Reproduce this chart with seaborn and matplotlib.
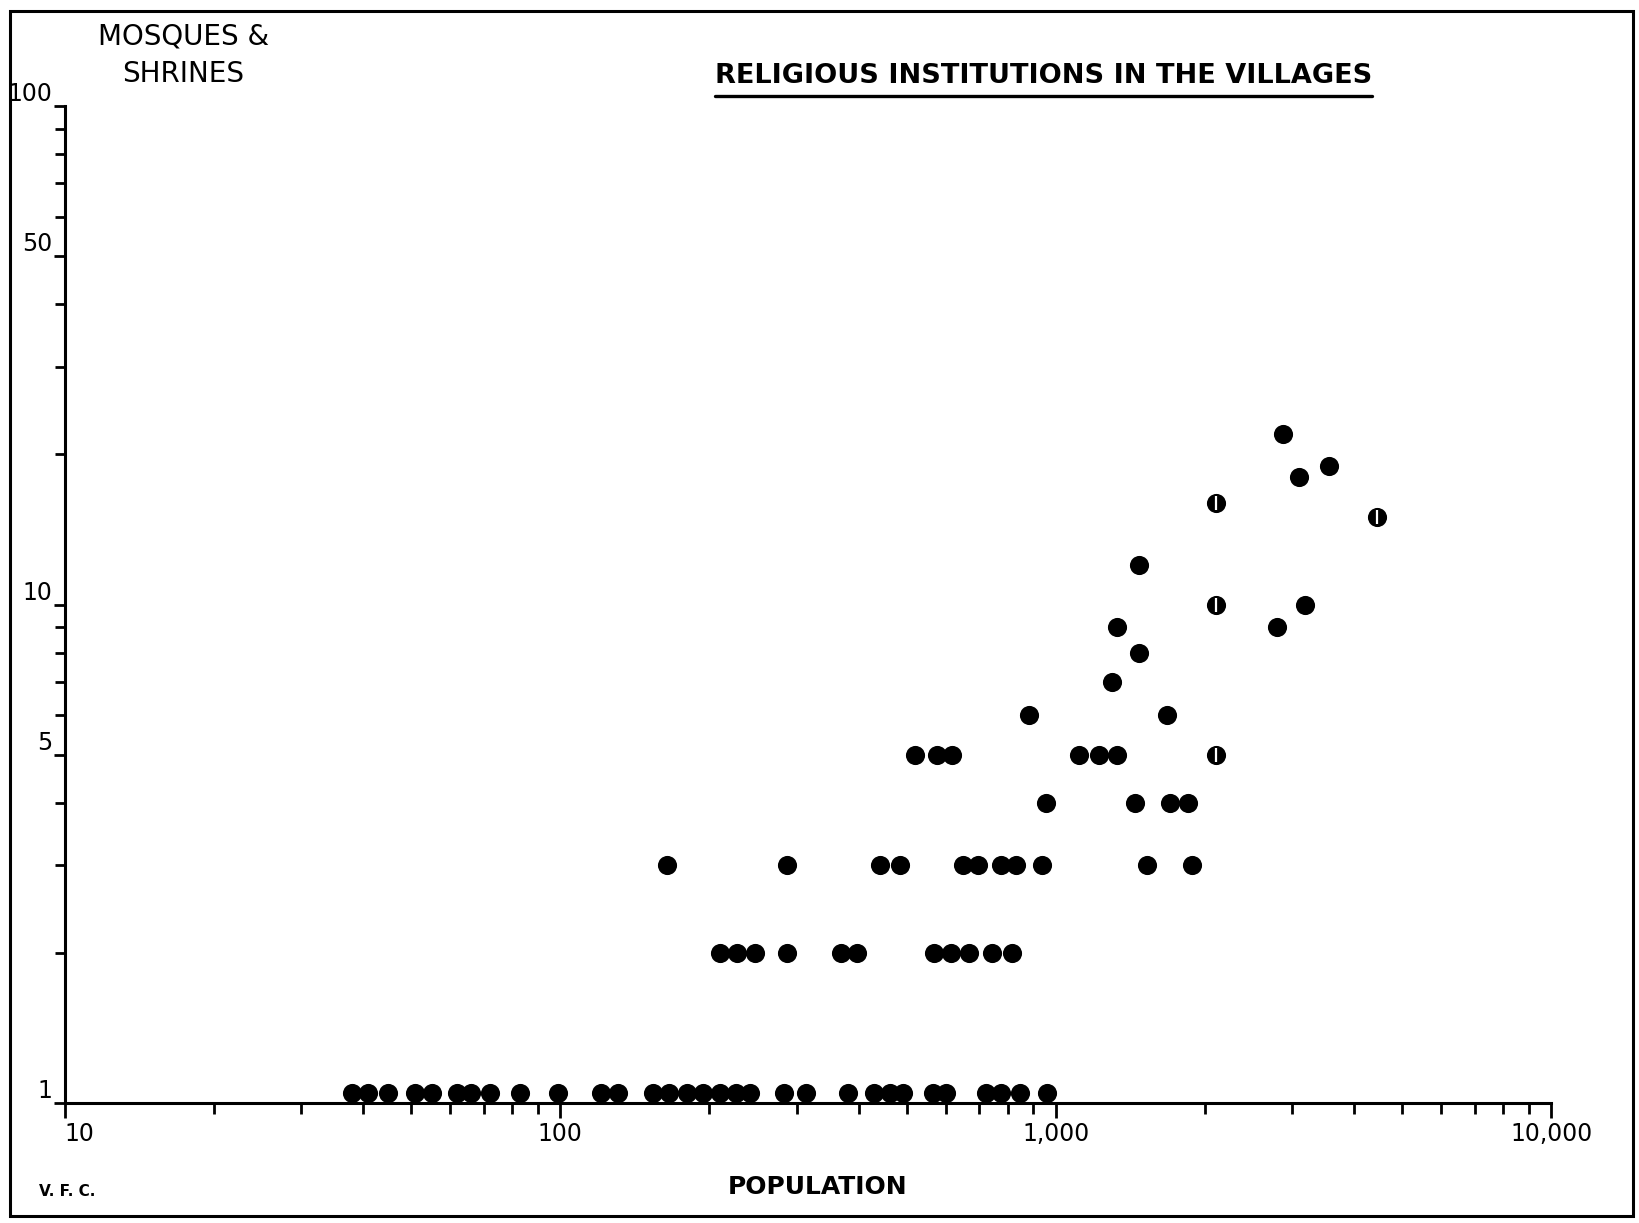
import matplotlib
matplotlib.use("Agg")
import matplotlib.pyplot as plt
import matplotlib.ticker as mticker
import matplotlib.transforms as mtransforms
from matplotlib.lines import Line2D
from matplotlib.patches import Rectangle
import pandas as pd
import seaborn as sns

# Village population and number of mosques & shrines, grouped by count
population = [
    38, 41, 45, 51, 55, 62, 66, 72, 83, 99, 121, 131, 154, 166, 180, 194,
    210, 226, 242, 283, 313, 380, 430, 462, 492, 564, 600, 722, 777, 848, 962,
    210, 227, 247, 287, 368, 397, 569, 615, 668, 743, 815,
    164, 287, 442, 485, 649, 698, 777, 831, 939, 1530, 1879,
    957, 1445, 1703, 1852,
    521, 575, 618, 1114, 1222, 1332, 2110,
    881, 1675,
    1300,
    1470,
    1326, 2800,
    2110, 3180,
    1470,
    4450,
    2110,
    3100,
    3560,
    2870,
]
institutions = (
    [1] * 31
    + [2] * 11
    + [3] * 11
    + [4] * 4
    + [5] * 7
    + [6] * 2
    + [7]
    + [8]
    + [9] * 2
    + [10] * 2
    + [12]
    + [15]
    + [16]
    + [18]
    + [19]
    + [22]
)

# Villages drawn with a split (marked) dot
marked_population = [2110, 2110, 2110, 4450]
marked_institutions = [5, 10, 16, 15]

x_ticks = [10, 100, 1000, 10000]
x_tick_labels = ["10", "100", "1,000", "10,000"]
x_minor = [m * d for d in (10, 100, 1000) for m in range(2, 10)]
y_ticks = [1, 5, 10, 50, 100]
y_tick_labels = ["1", "5", "10", "50", "100"]
y_minor = [2, 3, 4, 6, 7, 8, 9, 20, 30, 40, 60, 70, 80, 90]

sns.set_style("white")
plt.rcParams["font.family"] = ["DejaVu Sans"]
plt.rcParams["text.color"] = "black"

fig = plt.figure(figsize=(16.39, 12.23), dpi=100)
ax = fig.add_axes([0.0395, 0.0981, 0.907, 0.8152])
ax.set_xscale("log")
ax.set_yscale("log")

df = pd.DataFrame({"population": population, "institutions": institutions})
upper = df[df["institutions"] > 1]
base = df[df["institutions"] == 1]

sns.scatterplot(data=upper, x="population", y="institutions", ax=ax,
                color="black", s=190, linewidth=0, clip_on=False, zorder=3)
sns.scatterplot(data=base, x="population", y="institutions", ax=ax,
                color="black", s=190, linewidth=0, clip_on=False, zorder=3)
# single-institution dots sit on top of the axis line
ax.collections[-1].set_offset_transform(
    ax.transData + mtransforms.ScaledTranslation(0, 7 / 72, fig.dpi_scale_trans))

sns.scatterplot(x=marked_population, y=marked_institutions, ax=ax,
                marker="|", color="white", s=90, linewidth=1.6, zorder=4)

ax.set_xlim(10, 10000)
ax.set_ylim(1, 100)

ax.xaxis.set_major_locator(mticker.FixedLocator(x_ticks))
ax.xaxis.set_major_formatter(mticker.FixedFormatter(x_tick_labels))
ax.xaxis.set_minor_locator(mticker.FixedLocator(x_minor))
ax.xaxis.set_minor_formatter(mticker.NullFormatter())
ax.yaxis.set_major_locator(mticker.FixedLocator(y_ticks))
ax.yaxis.set_major_formatter(mticker.FixedFormatter(y_tick_labels))
ax.yaxis.set_minor_locator(mticker.FixedLocator(y_minor))
ax.yaxis.set_minor_formatter(mticker.NullFormatter())

for side in ("top", "right"):
    ax.spines[side].set_visible(False)
for side in ("left", "bottom"):
    ax.spines[side].set_linewidth(2.2)
    ax.spines[side].set_color("black")

ax.tick_params(axis="x", which="both", bottom=True, top=False)
ax.tick_params(axis="y", which="both", left=True, right=False)
ax.tick_params(axis="x", which="major", direction="out", length=11, width=2,
               pad=3, labelsize=17, colors="black")
ax.tick_params(axis="x", which="minor", direction="out", length=8, width=2,
               colors="black")
ax.tick_params(axis="y", which="major", direction="out", length=8, width=2,
               pad=1, labelsize=17, colors="black")
ax.tick_params(axis="y", which="minor", direction="out", length=7, width=2,
               colors="black")
for lab in ax.get_yticklabels():
    lab.set_va("bottom")
ax.get_xticklabels()[0].set_ha("left")
ax.set_xlabel("")
ax.set_ylabel("")

# headings
title = fig.text(0.6365, 0.938, "RELIGIOUS INSTITUTIONS IN THE VILLAGES",
                 ha="center", va="center", fontsize=19.5, fontweight="bold",
                 color="black")
fig.text(0.1117, 0.955, "MOSQUES &\nSHRINES", ha="center", va="center",
         fontsize=20, linespacing=1.45, color="black")
fig.text(0.4987, 0.0292, "POPULATION", ha="center", va="center",
         fontsize=18, fontweight="bold", color="black")
fig.text(0.041, 0.0255, "V. F. C.", ha="center", va="center",
         fontsize=11, fontweight="bold", color="black")

# underline the title
fig.canvas.draw()
bb = title.get_window_extent().transformed(fig.transFigure.inverted())
fig.add_artist(Line2D([bb.x0, bb.x1], [bb.y0 - 0.006, bb.y0 - 0.006],
                      transform=fig.transFigure, color="black", lw=2.4))

# outer frame
fig.add_artist(Rectangle((0.0064, 0.0057), 0.99, 0.9857,
                         transform=fig.transFigure, fill=False,
                         lw=2.2, ec="black"))

fig.savefig("out.png", dpi=100, facecolor="white")
